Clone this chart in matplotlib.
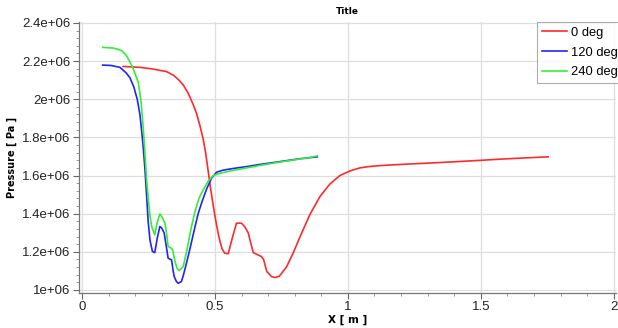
import matplotlib
matplotlib.use("Agg")
import matplotlib.pyplot as plt
from matplotlib.ticker import MultipleLocator

# ---- data (pressure in units of 1e6 Pa) ----
x_0deg = [0.155, 0.22, 0.268, 0.318, 0.345, 0.365, 0.381, 0.40, 0.419, 0.431, 0.444, 0.456,
          0.465, 0.475, 0.485, 0.494, 0.503, 0.512, 0.52, 0.527, 0.537, 0.55, 0.565, 0.581,
          0.60, 0.613, 0.625, 0.644, 0.66, 0.675, 0.683, 0.695, 0.713, 0.726, 0.742, 0.769,
          0.794, 0.826, 0.857, 0.895, 0.932, 0.97, 1.008, 1.045, 1.08,
          1.12, 1.195, 1.3, 1.4, 1.503, 1.6, 1.753]
p_0deg = [2.172, 2.167, 2.158, 2.145, 2.125, 2.100, 2.075, 2.03, 1.97, 1.925, 1.86, 1.79,
          1.72, 1.62, 1.52, 1.44, 1.365, 1.298, 1.25, 1.215, 1.193, 1.19, 1.27, 1.35,
          1.35, 1.33, 1.30, 1.196, 1.185, 1.175, 1.16, 1.097, 1.07, 1.065, 1.072, 1.12,
          1.193, 1.298, 1.395, 1.49, 1.555, 1.60, 1.624, 1.64, 1.647,
          1.652, 1.658, 1.665, 1.672, 1.68, 1.688, 1.698]

x_120deg = [0.078, 0.11, 0.143, 0.165, 0.18, 0.195, 0.208, 0.218, 0.224, 0.231, 0.237, 0.243,
            0.249, 0.256, 0.265, 0.274, 0.283, 0.293, 0.30, 0.309, 0.316, 0.324, 0.33, 0.337,
            0.343, 0.347, 0.355, 0.362, 0.374, 0.381, 0.393, 0.406, 0.42, 0.437, 0.452, 0.469,
            0.487, 0.506, 0.53, 0.569, 0.62, 0.669, 0.75, 0.82, 0.885]
p_120deg = [2.179, 2.177, 2.167, 2.14, 2.114, 2.065, 2.0, 1.92, 1.842, 1.74, 1.632, 1.50,
            1.36, 1.26, 1.202, 1.196, 1.27, 1.333, 1.325, 1.30, 1.24, 1.167, 1.162, 1.158,
            1.10, 1.07, 1.045, 1.035, 1.044, 1.075, 1.14, 1.215, 1.30, 1.40, 1.465, 1.53,
            1.585, 1.617, 1.628, 1.637, 1.647, 1.658, 1.674, 1.688, 1.698]

x_240deg = [0.078, 0.12, 0.15, 0.168, 0.19, 0.212, 0.222, 0.228, 0.235, 0.243, 0.25, 0.256,
            0.262, 0.274, 0.282, 0.293, 0.30, 0.312, 0.318, 0.324, 0.335, 0.341, 0.35, 0.358,
            0.366, 0.381, 0.395, 0.41, 0.425, 0.44, 0.456, 0.475, 0.494, 0.52, 0.56, 0.6,
            0.669, 0.75, 0.82, 0.86, 0.885]
p_240deg = [2.272, 2.268, 2.255, 2.228, 2.17, 2.088, 1.99, 1.895, 1.76, 1.58, 1.47, 1.39,
            1.333, 1.289, 1.35, 1.398, 1.385, 1.351, 1.30, 1.228, 1.22, 1.21, 1.15, 1.112,
            1.102, 1.123, 1.21, 1.32, 1.41, 1.48, 1.525, 1.57, 1.60, 1.612, 1.625, 1.635,
            1.653, 1.672, 1.687, 1.695, 1.703]

series_labels = ["0 deg", "120 deg", "240 deg"]
y_tick_values = [1.0e6, 1.2e6, 1.4e6, 1.6e6, 1.8e6, 2.0e6, 2.2e6, 2.4e6]
y_tick_labels = ["1e+06", "1.2e+06", "1.4e+06", "1.6e+06", "1.8e+06", "2e+06", "2.2e+06", "2.4e+06"]
x_tick_values = [0, 0.5, 1, 1.5, 2]
x_tick_labels = ["0", "0.5", "1", "1.5", "2"]

fig = plt.figure(figsize=(6.18, 3.28), dpi=100)
ax = fig.add_axes([79/618, 35/328, (616-79)/618, (293-22)/328])

lw = 1.2
ax.plot(x_0deg, [v*1e6 for v in p_0deg], color="#ff2a2a", lw=lw, label=series_labels[0])
ax.plot(x_120deg, [v*1e6 for v in p_120deg], color="#2222ff", lw=lw, label=series_labels[1])
ax.plot(x_240deg, [v*1e6 for v in p_240deg], color="#33ee33", lw=lw, label=series_labels[2])

ax.set_xlim(-0.011, 2.008)
ax.set_ylim(0.984e6, 2.405e6)
ax.set_xticks(x_tick_values)
ax.set_xticklabels(x_tick_labels, fontfamily="Liberation Sans", fontsize=9.5)
ax.set_yticks(y_tick_values)
ax.set_yticklabels(y_tick_labels, fontfamily="Liberation Sans", fontsize=9.5)
ax.xaxis.set_minor_locator(MultipleLocator(0.1))
ax.yaxis.set_minor_locator(MultipleLocator(0.04e6))

ax.grid(True, which="major", color="#dedede", lw=0.9)
ax.set_axisbelow(True)
for s in ["top", "right"]:
    ax.spines[s].set_visible(False)
for s in ["left", "bottom"]:
    ax.spines[s].set_color("#777777")
    ax.spines[s].set_linewidth(0.9)
ax.tick_params(axis="both", which="major", length=4, color="#666666",
               labelcolor="#222222", pad=2)
ax.tick_params(axis="both", which="minor", length=2, color="#888888")

ax.set_title("Title", fontsize=6.5, fontweight="bold", pad=6)
ax.set_xlabel("X [ m ]", fontsize=7.5, fontweight="bold", labelpad=1)
ax.set_ylabel("Pressure [ Pa ]", fontsize=7, fontweight="bold", labelpad=4)

leg = ax.legend(loc="upper left", bbox_to_anchor=(537/618, 1 - 22.3/328),
                bbox_transform=fig.transFigure,
                prop={"family": "Liberation Sans", "size": 9.3},
                frameon=True, fancybox=False,
                edgecolor="#999999", handlelength=2.0, handletextpad=0.25,
                borderpad=0.35, labelspacing=0.6, borderaxespad=0)
leg.get_frame().set_linewidth(0.8)

fig.savefig("out.png", dpi=100)
